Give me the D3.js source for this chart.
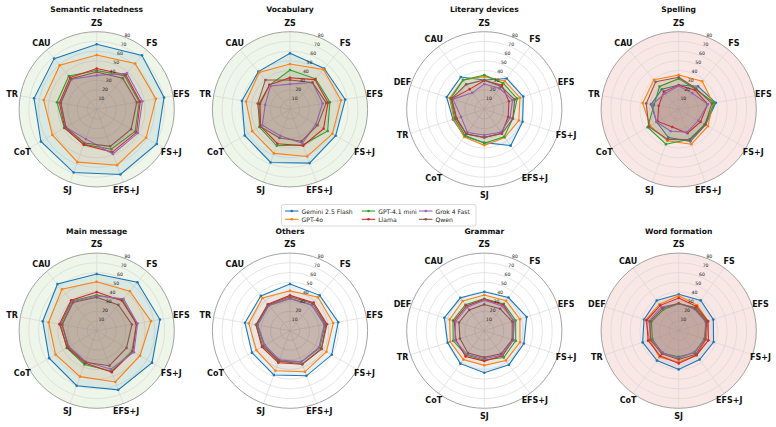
<!DOCTYPE html>
<html>
<head>
<meta charset="utf-8">
<script src="https://cdn.jsdelivr.net/npm/d3@7"></script>
<style>
  body { margin: 0; background: #fff; }
  text { font-family: "DejaVu Sans", sans-serif; }
</style>
</head>
<body>
<svg id="chart" width="776" height="427"></svg>
<script>
// strategies (radar axes)
const axes9 = ['ZS', 'FS', 'EFS', 'FS+J', 'EFS+J', 'SJ', 'CoT', 'TR', 'CAU'];
const axes10 = ['ZS', 'FS', 'EFS', 'FS+J', 'EFS+J', 'SJ', 'CoT', 'TR', 'DEF', 'CAU'];

const models = ['Gemini 2.5 Flash', 'GPT-4o', 'GPT-4.1 mini', 'Llama', 'Grok 4 Fast', 'Qwen'];
const modelColors = ['#1f77b4', '#ff7f0e', '#2ca02c', '#d62728', '#9467bd', '#8c564b'];

const rTicks = [10, 20, 30, 40, 50, 60, 70, 80];

// one row per model, same order as `models`
const semanticRelatedness = [
  [67, 72.6, 70.5, 71.5, 71.5, 69.4, 66.4, 65.6, 68.2],
  [56, 61.7, 62, 58.8, 61.3, 58, 52.8, 55.5, 59.3],
  [40, 45, 44.5, 45.7, 43.8, 38.5, 38.6, 41.6, 44.8],
  [42, 46.5, 45.5, 47.5, 47, 39, 38, 39, 42.7],
  [35, 48.5, 47.8, 49, 49, 32.7, 36.7, 38, 40.5],
  [38.5, 41.8, 42, 41, 40.6, 37, 36.7, 37.5, 41]
];
const vocabulary = [
  [57.7, 54.9, 57.8, 54.4, 59, 58.3, 53.9, 50.3, 50.7],
  [46.7, 53.7, 53.4, 50.5, 51.8, 48.4, 45, 46, 49.5],
  [40.5, 41, 41.8, 44.8, 39, 40, 36.5, 32.5, 32.7],
  [32.6, 40, 39.8, 40, 40, 37.8, 35, 31.5, 32.9],
  [26, 36, 34.2, 30.9, 37.3, 29, 33, 26, 31.4],
  [30.2, 36, 38, 32.8, 35, 31.5, 35.5, 33.8, 39.5]
];
const literaryDevices = [
  [30.2, 39.3, 42.3, 41.5, 46.3, 34.4, 34.5, 34, 40.8, 41.2],
  [33.7, 36, 38.7, 37.4, 36, 37.1, 35.3, 33, 37.6, 37.5],
  [35.4, 33.2, 35.7, 30.9, 34.9, 35, 33.5, 32, 36.4, 37.2],
  [29.6, 30.8, 26.7, 25.9, 30.5, 29, 31.5, 30, 35.4, 25.7],
  [26, 26.7, 30.6, 28, 29.2, 26.5, 29.5, 25.3, 34, 21],
  [30.2, 29, 33, 31, 31, 28.9, 31.5, 30.7, 35.4, 31.8]
];
const spelling = [
  [25, 31, 38.8, 32, 35.2, 31, 26.3, 29, 27],
  [35.4, 37.7, 36, 34.8, 38.3, 34.5, 34, 37.7, 39.7],
  [31.6, 27, 37.6, 31, 32.8, 38.3, 37, 25.8, 30.7],
  [24.7, 26, 30.3, 26, 26.3, 19.4, 25, 21, 23.9],
  [24, 21.8, 30.3, 23.4, 25, 24, 26.3, 28, 21.5],
  [33, 28, 34.7, 31.5, 33.5, 33, 35.6, 34, 37]
];
const mainMessage = [
  [58.4, 65.2, 66.2, 65.9, 64.9, 60.4, 56.6, 56.5, 62.9],
  [50.5, 53.2, 56.8, 51.6, 56.2, 50.4, 49, 50.3, 55.8],
  [36.8, 41.5, 41.7, 42, 44.5, 37, 35.7, 37.8, 40],
  [39.9, 40.5, 41.7, 43, 45.5, 35.5, 35, 39, 41],
  [35.7, 43, 42.8, 44.3, 42.3, 33.8, 33, 36.3, 39],
  [34.4, 34.7, 36.9, 35.5, 38.4, 34.7, 34, 36, 38]
];
const others = [
  [48.1, 47.6, 50.5, 49.7, 49.5, 48.6, 45.3, 47.1, 46.8],
  [41.2, 44.9, 45.3, 43.4, 45.1, 44, 40, 43.2, 44.1],
  [33.3, 34.7, 36.6, 35.4, 34.2, 34, 30.7, 34.5, 34],
  [36.4, 37.8, 38.7, 37.5, 36.8, 35.1, 33.5, 35.6, 35.6],
  [33, 34.7, 35.8, 34.5, 34.2, 32, 30, 33.7, 34],
  [35, 36.6, 37.6, 37.5, 36.8, 33, 32.4, 35.6, 35]
];
const grammar = [
  [40.2, 42.3, 45.9, 42.9, 43.3, 43.3, 42, 39.8, 43.3, 41.9],
  [36.8, 38.2, 38.6, 38.7, 37.9, 35.7, 36.8, 36.9, 37.6, 37.9],
  [33, 34.2, 34, 34, 34.2, 30.2, 31.3, 33.7, 34, 33.1],
  [32.3, 33, 32, 31.4, 31.8, 31.3, 32.8, 30.8, 32.6, 31.6],
  [31.3, 31.4, 32.5, 31.4, 31, 28.9, 30, 31.9, 31.1, 30],
  [27.1, 27.9, 30.3, 30.2, 29.5, 27.5, 28.6, 26.4, 27.5, 26.5]
];
const wordFormation = [
  [37.5, 38.6, 37.5, 37.8, 36.7, 39.9, 38.1, 39.1, 37.6, 38.4],
  [36.1, 32.5, 31.8, 29.7, 31.2, 32.3, 33.9, 31.5, 35.8, 33.7],
  [27.8, 29.7, 30.8, 27.5, 28.2, 26.8, 28.7, 28.5, 29.6, 27],
  [33.7, 31, 31.8, 32.2, 31.2, 33.7, 32.2, 33.2, 34.7, 32.3],
  [28, 27.6, 29.2, 28.2, 27.3, 28.5, 28, 29.7, 32.4, 30.3],
  [28.2, 28.5, 30, 29, 30, 29.6, 29.5, 30.7, 31, 28.5]
];

const panels = [
  { title: 'Semantic relatedness', axes: axes9, values: semanticRelatedness, bg: '#eef5e9' },
  { title: 'Vocabulary', axes: axes9, values: vocabulary, bg: '#eef5e9' },
  { title: 'Literary devices', axes: axes10, values: literaryDevices, bg: '#ffffff' },
  { title: 'Spelling', axes: axes9, values: spelling, bg: '#f9e7e6' },
  { title: 'Main message', axes: axes9, values: mainMessage, bg: '#eef5e9' },
  { title: 'Others', axes: axes9, values: others, bg: '#ffffff' },
  { title: 'Grammar', axes: axes10, values: grammar, bg: '#ffffff' },
  { title: 'Word formation', axes: axes10, values: wordFormation, bg: '#f9e7e6' }
];

const svg = d3.select('#chart');
const colX = [96.7, 290, 484.3, 678.7];
const rowY = [109.3, 330.7];
const rMax = 77.6;

const rScale = d3.scaleLinear().domain([0, 80]).range([0, rMax]);

panels.forEach((p, k) => {
  const cx = colX[k % 4];
  const cy = rowY[Math.floor(k / 4)];
  const n = p.axes.length;
  const angle = d3.scaleLinear().domain([0, n]).range([0, 2 * Math.PI]);

  const g = svg.append('g').attr('transform', `translate(${cx},${cy})`);

  // background disc
  g.append('circle').attr('r', rMax).attr('fill', p.bg);

  // grid rings
  g.selectAll('.ring')
    .data(rTicks.slice(0, -1))
    .join('circle')
    .attr('r', d => rScale(d))
    .attr('fill', 'none')
    .attr('stroke', '#d4d4d4')
    .attr('stroke-width', 0.6);

  // spokes
  g.selectAll('.spoke')
    .data(p.axes)
    .join('line')
    .attr('x1', 0).attr('y1', 0)
    .attr('x2', (_, i) => rMax * Math.sin(angle(i)))
    .attr('y2', (_, i) => -rMax * Math.cos(angle(i)))
    .attr('stroke', '#d4d4d4')
    .attr('stroke-width', 0.6);

  // outer spine
  g.append('circle').attr('r', rMax)
    .attr('fill', 'none').attr('stroke', '#999').attr('stroke-width', 0.9);

  // series
  const radial = d3.lineRadial()
    .angle((_, i) => angle(i))
    .radius(d => rScale(d))
    .curve(d3.curveLinearClosed);

  p.values.forEach((vals, m) => {
    const c = modelColors[m];
    g.append('path')
      .attr('d', radial(vals))
      .attr('fill', c).attr('fill-opacity', 0.1)
      .attr('stroke', c).attr('stroke-width', 1.1);
    g.selectAll(null)
      .data(vals)
      .join('circle')
      .attr('cx', (d, i) => rScale(d) * Math.sin(angle(i)))
      .attr('cy', (d, i) => -rScale(d) * Math.cos(angle(i)))
      .attr('r', 1.3)
      .attr('fill', c);
  });

  // radial tick labels
  const la = 22.5 * Math.PI / 180;
  g.selectAll('.rlab')
    .data(rTicks)
    .join('text')
    .attr('x', d => (rScale(d) + 2.5) * Math.sin(la))
    .attr('y', d => -(rScale(d) + 2.5) * Math.cos(la))
    .attr('text-anchor', 'middle')
    .attr('dominant-baseline', 'central')
    .attr('font-size', 4.6)
    .attr('fill', '#222')
    .text(d => d);

  // axis labels
  g.selectAll('.alab')
    .data(p.axes)
    .join('text')
    .attr('x', (_, i) => 86 * Math.sin(angle(i)))
    .attr('y', (_, i) => -86 * Math.cos(angle(i)))
    .attr('text-anchor', 'middle')
    .attr('dominant-baseline', 'central')
    .attr('font-size', 8)
    .attr('font-weight', 'bold')
    .attr('fill', '#111')
    .text(d => d);

  // title
  svg.append('text')
    .attr('x', cx)
    .attr('y', cy - 99.5)
    .attr('text-anchor', 'middle')
    .attr('dominant-baseline', 'central')
    .attr('font-size', 7.6)
    .attr('font-weight', 'bold')
    .attr('fill', '#111')
    .text(p.title);
});

// legend (3 columns, column-major like matplotlib)
const legend = svg.append('g');
legend.append('rect')
  .attr('x', 281.5).attr('y', 204.5)
  .attr('width', 194.5).attr('height', 21.5)
  .attr('rx', 2)
  .attr('fill', '#fff').attr('fill-opacity', 0.8)
  .attr('stroke', '#ccc').attr('stroke-width', 0.7);

const legX = [285, 361.7, 419];
const legY = [211, 219.3];
models.forEach((name, m) => {
  const x = legX[Math.floor(m / 2)];
  const y = legY[m % 2];
  legend.append('line')
    .attr('x1', x).attr('x2', x + 13.5)
    .attr('y1', y).attr('y2', y)
    .attr('stroke', modelColors[m]).attr('stroke-width', 1.1);
  legend.append('circle')
    .attr('cx', x + 6.75).attr('cy', y).attr('r', 1.3)
    .attr('fill', modelColors[m]);
  legend.append('text')
    .attr('x', x + 16.5).attr('y', y)
    .attr('dominant-baseline', 'central')
    .attr('font-size', 6.1)
    .attr('fill', '#222')
    .text(name);
});
</script>
</body>
</html>
